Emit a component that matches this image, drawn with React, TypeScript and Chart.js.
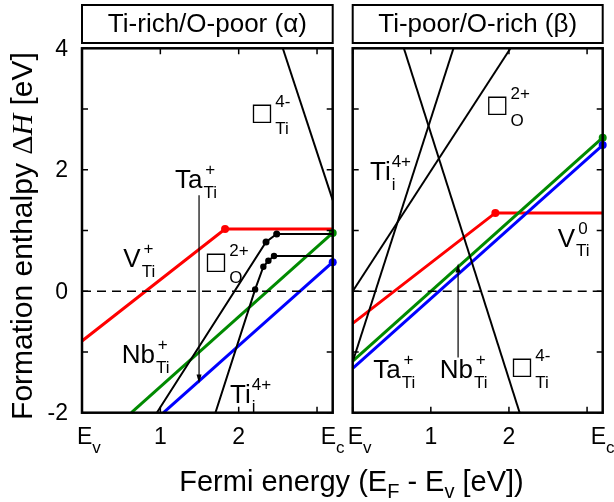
import { useEffect, useRef } from 'react';
import { Chart, registerables } from 'chart.js';

Chart.register(...registerables);

const SANS = '"Liberation Sans", Arial, Helvetica, sans-serif';
const SERIF = '"Liberation Serif", "Times New Roman", serif';
const SYMBOL = '"DejaVu Sans", sans-serif';

const W = 614;
const H = 502;

// ---- axes ----
const xMin = 0;
const xMax = 3.2;
const yMin = -2;
const yMax = 4;
const xTickValues = [0, 1, 2, 3];
const yTickValues = [-2, -1, 0, 1, 2, 3, 4];
const xLabelValues = [0, 1, 2, 3.2];
const xLabelMain = ['E', '1', '2', 'E'];
const xLabelSub = ['v', '', '', 'c'];
const yLabelValues = [-2, 0, 2, 4];
const yLabelText = ['-2', '0', '2', '4'];

const RED = '#ff0000';
const GREEN = '#008a00';
const BLUE = '#0000ff';
const BLACK = '#000000';

// ---- Ti-rich / O-poor (alpha) ----
const aVTiX = [0, 1.826, 3.2];
const aVTiY = [-0.82, 1.024, 1.024];
const aNbX = [0.63, 3.2];
const aNbY = [-2, 0.96];
const aTaX = [1.04, 3.2];
const aTaY = [-2, 0.478];
const aVOX = [0.955, 2.349, 2.485, 3.2];
const aVOY = [-2, 0.812, 0.942, 0.942];
const aTiiX = [1.703, 2.21, 2.315, 2.379, 2.451, 3.2];
const aTiiY = [-2, 0.03, 0.403, 0.502, 0.58, 0.58];
const aVTi4X = [2.563, 3.2];
const aVTi4Y = [4, 1.5];
const aArrowX = [1.494, 1.494];
const aArrowY = [1.58, -1.52];

// ---- Ti-poor / O-rich (beta) ----
const bVTiX = [0, 1.826, 3.2];
const bVTiY = [-0.53, 1.29, 1.29];
const bNbX = [0, 3.2];
const bNbY = [-1.15, 2.528];
const bTaX = [0, 3.2];
const bTaY = [-1.27, 2.407];
const bVOX = [0, 2.02];
const bVOY = [0, 4];
const bTiiX = [0, 1.29];
const bTiiY = [-1.16, 4];
const bVTi4X = [0.655, 2.137];
const bVTi4Y = [4, -2];
const bArrowX = [1.349, 1.349];
const bArrowY = [-1.09, 0.456];

const zeroX = [0, 3.2];
const zeroY = [0, 0];

type Series = { xs: number[]; ys: number[]; color: string; width: number; dots?: number[]; dotR?: number; dash?: number[] };
type Label = { x: number; y: number; main: string; sub: string; sup: string; center?: boolean };

const alphaSeries: Series[] = [
  { xs: zeroX, ys: zeroY, color: BLACK, width: 1.5, dash: [9, 6] },
  { xs: aVTi4X, ys: aVTi4Y, color: BLACK, width: 2 },
  { xs: aVOX, ys: aVOY, color: BLACK, width: 2, dots: [1, 2], dotR: 3.5 },
  { xs: aTiiX, ys: aTiiY, color: BLACK, width: 2, dots: [1, 2, 3, 4], dotR: 3.2 },
  { xs: aTaX, ys: aTaY, color: BLUE, width: 3, dots: [1], dotR: 4 },
  { xs: aNbX, ys: aNbY, color: GREEN, width: 3, dots: [1], dotR: 4 },
  { xs: aVTiX, ys: aVTiY, color: RED, width: 3, dots: [1], dotR: 4 },
];

const betaSeries: Series[] = [
  { xs: zeroX, ys: zeroY, color: BLACK, width: 1.5, dash: [9, 6] },
  { xs: bVTi4X, ys: bVTi4Y, color: BLACK, width: 2 },
  { xs: bVOX, ys: bVOY, color: BLACK, width: 2 },
  { xs: bTiiX, ys: bTiiY, color: BLACK, width: 2 },
  { xs: bTaX, ys: bTaY, color: BLUE, width: 3, dots: [1], dotR: 4 },
  { xs: bNbX, ys: bNbY, color: GREEN, width: 3, dots: [1], dotR: 4 },
  { xs: bVTiX, ys: bVTiY, color: RED, width: 3, dots: [1], dotR: 4 },
];

const alphaLabels: Label[] = [
  { x: 2.179, y: 2.775, main: '□', sub: 'Ti', sup: '4-' },
  { x: 1.187, y: 1.694, main: 'Ta', sub: 'Ti', sup: '+', center: true },
  { x: 0.527, y: 0.394, main: 'V', sub: 'Ti', sup: '+', center: true },
  { x: 1.592, y: 0.321, main: '□', sub: 'O', sup: '2+' },
  { x: 0.507, y: -1.187, main: 'Nb', sub: 'Ti', sup: '+', center: true },
  { x: 1.889, y: -1.833, main: 'Ti', sub: 'i', sup: '4+' },
];

const betaLabels: Label[] = [
  { x: 1.731, y: 2.901, main: '□', sub: 'O', sup: '2+' },
  { x: 0.221, y: 1.831, main: 'Ti', sub: 'i', sup: '4+' },
  { x: 2.625, y: 0.733, main: 'V', sub: 'Ti', sup: '0', center: true },
  { x: 0.263, y: -1.434, main: 'Ta', sub: 'Ti', sup: '+', center: true },
  { x: 1.115, y: -1.434, main: 'Nb', sub: 'Ti', sup: '+', center: true },
  { x: 2.05, y: -1.408, main: '□', sub: 'Ti', sup: '4-' },
];

type Panel = {
  key: string;
  title: string;
  series: Series[];
  labels: Label[];
  arrowX: number[];
  arrowY: number[];
  padLeft: number;
  padRight: number;
  axes: boolean;
};

const panels: Panel[] = [
  { key: 'alpha', title: 'Ti-rich/O-poor (α)', series: alphaSeries, labels: alphaLabels, arrowX: aArrowX, arrowY: aArrowY, padLeft: 82, padRight: W - 332.7, axes: true },
  { key: 'beta', title: 'Ti-poor/O-rich (β)', series: betaSeries, labels: betaLabels, arrowX: bArrowX, arrowY: bArrowY, padLeft: 352.7, padRight: W - 602.7, axes: false },
];

const PAD_TOP = 48.3;
const PAD_BOTTOM = H - 412.7;

function drawRich(ctx: CanvasRenderingContext2D, px: number, py: number, lab: Label) {
  let w = 0;
  let supY = py - 13;
  let subY = py + 9.5;
  let gap = 1;
  if (lab.main === '□') {
    ctx.font = `100px ${SYMBOL}`;
    const m0 = ctx.measureText('□');
    const ink0 = m0.actualBoundingBoxRight + m0.actualBoundingBoxLeft;
    const size = (100 * 18.5) / (ink0 || 60);
    ctx.font = `${size}px ${SYMBOL}`;
    const m = ctx.measureText('□');
    ctx.fillText('□', px + m.actualBoundingBoxLeft, py - m.actualBoundingBoxDescent);
    w = m.actualBoundingBoxLeft + m.actualBoundingBoxRight;
    supY = py - 16;
    subY = py + 11;
    gap = 3.5;
  } else {
    ctx.font = `26px ${SANS}`;
    ctx.fillText(lab.main, px, py);
    w = ctx.measureText(lab.main).width;
  }
  ctx.font = `17px ${SANS}`;
  const sw = ctx.measureText(lab.sub).width;
  const pw = ctx.measureText(lab.sup).width;
  const x0 = px + w + gap;
  if (lab.center) {
    const cw = Math.max(sw, pw);
    ctx.fillText(lab.sub, x0 + (cw - sw) / 2, subY);
    ctx.fillText(lab.sup, x0 + (cw - pw) / 2, supY);
  } else {
    ctx.fillText(lab.sub, x0, subY);
    ctx.fillText(lab.sup, x0, supY);
  }
}

function makeDecor(panel: Panel) {
  return {
    id: 'decor_' + panel.key,
    afterDatasetsDraw(chart: any) {
      const ctx: CanvasRenderingContext2D = chart.ctx;
      const a = chart.chartArea;
      const xs = chart.scales.x;
      const ys = chart.scales.y;
      ctx.save();
      ctx.fillStyle = BLACK;
      ctx.strokeStyle = BLACK;

      // arrow
      const ax0 = xs.getPixelForValue(panel.arrowX[0]);
      const ay0 = ys.getPixelForValue(panel.arrowY[0]);
      const ax1 = xs.getPixelForValue(panel.arrowX[1]);
      const ay1 = ys.getPixelForValue(panel.arrowY[1]);
      const dir = ay1 > ay0 ? 1 : -1;
      ctx.lineWidth = 1.2;
      ctx.beginPath();
      ctx.moveTo(ax0, ay0);
      ctx.lineTo(ax1, ay1 - dir * 6);
      ctx.stroke();
      ctx.beginPath();
      ctx.moveTo(ax1, ay1);
      ctx.lineTo(ax1 - 2.5, ay1 - dir * 9);
      ctx.lineTo(ax1 + 2.5, ay1 - dir * 9);
      ctx.closePath();
      ctx.fill();

      // frame
      ctx.lineWidth = 2.5;
      ctx.strokeRect(a.left, a.top, a.right - a.left, a.bottom - a.top);

      // inward ticks
      ctx.lineWidth = 1.5;
      const tl = 6;
      ctx.beginPath();
      xTickValues.forEach((v) => {
        const p = xs.getPixelForValue(v);
        ctx.moveTo(p, a.bottom);
        ctx.lineTo(p, a.bottom - tl);
        ctx.moveTo(p, a.top);
        ctx.lineTo(p, a.top + tl);
      });
      yTickValues.forEach((v) => {
        const p = ys.getPixelForValue(v);
        ctx.moveTo(a.left, p);
        ctx.lineTo(a.left + tl, p);
        ctx.moveTo(a.right, p);
        ctx.lineTo(a.right - tl, p);
      });
      ctx.stroke();

      // title box
      ctx.lineWidth = 2;
      ctx.strokeRect(a.left, 5, a.right - a.left, 38);
      ctx.font = `26px ${SANS}`;
      ctx.textAlign = 'center';
      ctx.textBaseline = 'alphabetic';
      ctx.fillText(panel.title, (a.left + a.right) / 2, 32);
      ctx.textAlign = 'left';

      // labels
      panel.labels.forEach((lab) => {
        drawRich(ctx, xs.getPixelForValue(lab.x), ys.getPixelForValue(lab.y), lab);
      });

      // x tick labels
      xLabelValues.forEach((v, i) => {
        const p = xs.getPixelForValue(v);
        ctx.font = `23px ${SANS}`;
        const mw = ctx.measureText(xLabelMain[i]).width;
        ctx.font = `17px ${SANS}`;
        const sw = xLabelSub[i] ? ctx.measureText(xLabelSub[i]).width : 0;
        let left = p - (mw + sw) / 2;
        if (left < a.left - 5) left = a.left - 5;
        ctx.font = `23px ${SANS}`;
        ctx.fillText(xLabelMain[i], left, a.bottom + 31);
        if (xLabelSub[i]) {
          ctx.font = `17px ${SANS}`;
          ctx.fillText(xLabelSub[i], left + mw, a.bottom + 40);
        }
      });

      if (panel.axes) {
        // y tick labels
        ctx.font = `23px ${SANS}`;
        ctx.textAlign = 'right';
        ctx.textBaseline = 'middle';
        yLabelValues.forEach((v, i) => {
          ctx.fillText(yLabelText[i], a.left - 14, ys.getPixelForValue(v) + 1);
        });
        ctx.textAlign = 'left';
        ctx.textBaseline = 'alphabetic';

        // y title
        const parts = [
          { t: 'Formation enthalpy ', f: `30px ${SANS}` },
          { t: 'Δ', f: `30px ${SERIF}` },
          { t: 'H', f: `italic 30px ${SERIF}` },
          { t: ' [eV]', f: `30px ${SANS}` },
        ];
        let tw = 0;
        parts.forEach((pt) => {
          ctx.font = pt.f;
          tw += ctx.measureText(pt.t).width;
        });
        ctx.save();
        ctx.translate(32, 236);
        ctx.rotate(-Math.PI / 2);
        let cx = -tw / 2;
        parts.forEach((pt) => {
          ctx.font = pt.f;
          ctx.fillText(pt.t, cx, 0);
          cx += ctx.measureText(pt.t).width;
        });
        ctx.restore();

        // x title
        const xparts = [
          { t: 'Fermi energy (E', f: `29px ${SANS}`, dy: 0 },
          { t: 'F', f: `20px ${SANS}`, dy: 7 },
          { t: ' - E', f: `29px ${SANS}`, dy: 0 },
          { t: 'v', f: `20px ${SANS}`, dy: 7 },
          { t: ' [eV])', f: `29px ${SANS}`, dy: 0 },
        ];
        let xw = 0;
        xparts.forEach((pt) => {
          ctx.font = pt.f;
          xw += ctx.measureText(pt.t).width;
        });
        let xx = 351.5 - xw / 2;
        xparts.forEach((pt) => {
          ctx.font = pt.f;
          ctx.fillText(pt.t, xx, 491 + pt.dy);
          xx += ctx.measureText(pt.t).width;
        });
      }
      ctx.restore();
    },
  };
}

function PanelChart({ panel }: { panel: Panel }) {
  const ref = useRef<HTMLCanvasElement | null>(null);
  useEffect(() => {
    if (!ref.current) return;
    const chart = new Chart(ref.current, {
      type: 'line',
      data: {
        datasets: panel.series.map((s) => ({
          data: s.xs.map((x, i) => ({ x, y: s.ys[i] })),
          borderColor: s.color,
          backgroundColor: s.color,
          borderWidth: s.width,
          borderDash: s.dash || [],
          pointRadius: s.xs.map((_, i) => (s.dots && s.dots.includes(i) ? s.dotR || 4 : 0)),
          pointBorderWidth: 0,
          pointBackgroundColor: s.color,
          pointHoverRadius: 0,
          fill: false,
          tension: 0,
          clip: 8,
        })),
      },
      options: {
        animation: false,
        responsive: false,
        devicePixelRatio: 1,
        events: [],
        layout: { padding: { left: panel.padLeft, right: panel.padRight, top: PAD_TOP, bottom: PAD_BOTTOM } },
        plugins: { legend: { display: false }, tooltip: { enabled: false }, title: { display: false } },
        scales: {
          x: { type: 'linear', min: xMin, max: xMax, display: false },
          y: { type: 'linear', min: yMin, max: yMax, display: false },
        },
      } as any,
      plugins: [makeDecor(panel)],
    });
    return () => chart.destroy();
  }, [panel]);
  return (
    <canvas
      ref={ref}
      width={W}
      height={H}
      style={{ position: 'absolute', left: 0, top: 0, width: W, height: H, display: 'block' }}
    />
  );
}

export default function App() {
  return (
    <div style={{ position: 'fixed', left: 0, top: 0, width: W, height: H, background: '#ffffff', overflow: 'hidden' }}>
      {panels.map((p) => (
        <PanelChart key={p.key} panel={p} />
      ))}
    </div>
  );
}
